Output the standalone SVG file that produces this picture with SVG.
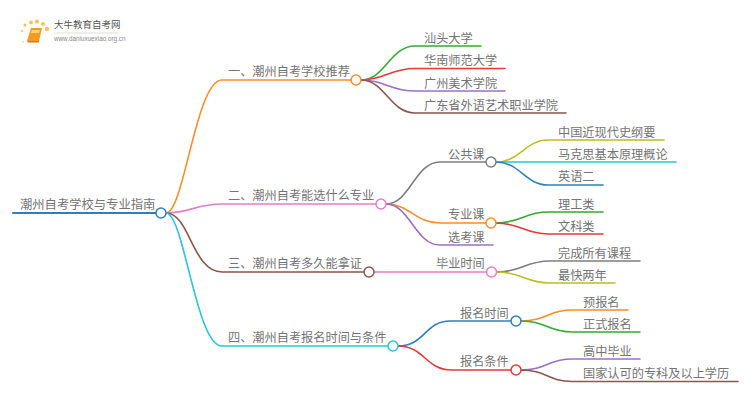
<svg xmlns="http://www.w3.org/2000/svg" width="750" height="410" viewBox="0 0 750 410">
<style>
text{font-family:"Noto Sans CJK SC","Noto Sans",sans-serif;font-size:12.200px;fill:#747474}
#connectors path{fill:none;stroke-width:1.600;stroke-linecap:round}
circle{fill:#fff;stroke-width:1.500;r:5px}
.dot{stroke:none;fill:#fbc14f}
.or{stroke:#ff8c2a}.pk{stroke:#e77cc8}.br{stroke:#8c564b}.cy{stroke:#27c5d8}.gn{stroke:#36a936}.rd{stroke:#e23a3a}.pu{stroke:#9a6fc8}.gy{stroke:#7f7f7f}.ol{stroke:#bcbd22}.bl{stroke:#2f7fbf}
</style>
<rect width="750" height="410" fill="#fff"/>
<g id="logo">
<circle class="dot" cx="23" cy="42" style="r:1px;fill:#fde3a8"/><circle class="dot" cx="22" cy="31" style="r:1.300px;fill:#fbd27c"/><circle class="dot" cx="25" cy="25" style="r:1.600px"/><circle class="dot" cx="31" cy="22.500" style="r:1.900px"/><circle class="dot" cx="37" cy="21.500" style="r:2px"/><circle class="dot" cx="43" cy="24" style="r:2px"/><circle class="dot" cx="47" cy="29" style="r:2.200px"/>
<path d="M31 28H42L39 41H27Z" fill="#f59a23"/><path d="M32 30H40L39 33H31Z" fill="#ffd27a"/><path d="M27 41L39 41 39 42.500H28Z" fill="#d9791a"/>
<text x="54" y="28" style="font-size:9.500px;fill:#555">大牛教育自考网</text>
<path d="M54 33H119" stroke="#ddd" stroke-width="1"/>
<text x="54" y="41" style="font-size:6.300px;fill:#888;font-family:'Liberation Sans',sans-serif">www.daniuxuexiao.org.cn</text>
</g>
<g id="connectors">
<path class="bl" d="M13 213H156" style="stroke-width:2"/>
<path class="or" d="M166 213C184 213 196 80 222 80H351"/>
<path class="pk" d="M166 213C190 213 196 204 222 204H376"/>
<path class="br" d="M166 213C190 213 192 272 222 272H364"/>
<path class="cy" d="M166 213C184 213 196 346 222 346H388"/>
<path class="gn" d="M361 80C385 80 390 46 415 46H481"/>
<path class="rd" d="M361 80C385 80 390 68.500 415 68.500H505"/>
<path class="pu" d="M361 80C385 80 390 91 415 91H505"/>
<path class="br" d="M361 80C385 80 390 113 415 113H566"/>
<path class="gy" d="M386 204C410 204 415 162 440 162H486"/>
<path class="or" d="M386 204C410 204 415 223 440 223H486"/>
<path class="pu" d="M386 204C410 204 415 245 440 245H493"/>
<path class="ol" d="M496 162C520 162 525 140 548 140H664"/>
<path class="cy" d="M496 162H676"/>
<path class="bl" d="M496 162C520 162 525 185 548 185H603"/>
<path class="gn" d="M496 223C520 223 525 212 548 212H603"/>
<path class="rd" d="M496 223C520 223 525 234 548 234H603"/>
<path class="pk" d="M374 272H487"/>
<path class="gy" d="M497 272C522 272 525 261 550 261H640"/>
<path class="ol" d="M497 272C522 272 525 283 550 283H615"/>
<path class="bl" d="M398 346C425 346 425 321 450 321H511"/>
<path class="rd" d="M398 346C425 346 425 370 452 370H511"/>
<path class="or" d="M521 321C546 321 548 310 572 310H628"/>
<path class="gn" d="M521 321C546 321 548 332 572 332H640"/>
<path class="pu" d="M521 370C546 370 548 359 572 359H640"/>
<path class="br" d="M521 370C546 370 548 381.500 572 381.500H738"/>
</g>
<g id="root"><circle class="bl" cx="161" cy="213"/><text x="20" y="209" style="font-size:12.300px">潮州自考学校与专业指南</text></g>
<g id="n1"><circle class="or" cx="356" cy="80"/><text x="228" y="76">一、潮州自考学校推荐</text></g>
<g id="n2"><circle class="pk" cx="381" cy="204"/><text x="228" y="200">二、潮州自考能选什么专业</text></g>
<g id="n3"><circle class="br" cx="369" cy="272"/><text x="228" y="268">三、潮州自考多久能拿证</text></g>
<g id="n4"><circle class="cy" cx="393" cy="346"/><text x="228" y="342">四、潮州自考报名时间与条件</text></g>
<g id="n1a"><text x="424" y="42.500">汕头大学</text></g>
<g id="n1b"><text x="424" y="65">华南师范大学</text></g>
<g id="n1c"><text x="424" y="87.500">广州美术学院</text></g>
<g id="n1d"><text x="424" y="110">广东省外语艺术职业学院</text></g>
<g id="n2a"><circle class="gy" cx="491" cy="162"/><text x="448" y="158.500">公共课</text></g>
<g id="n2b"><circle class="or" cx="491" cy="223"/><text x="448" y="219">专业课</text></g>
<g id="n2c"><text x="448" y="241.500">选考课</text></g>
<g id="n2a1"><text x="558" y="136.500">中国近现代史纲要</text></g>
<g id="n2a2"><text x="558" y="158.500">马克思基本原理概论</text></g>
<g id="n2a3"><text x="558" y="181">英语二</text></g>
<g id="n2b1"><text x="558" y="208.500">理工类</text></g>
<g id="n2b2"><text x="558" y="230.500">文科类</text></g>
<g id="n3a"><circle class="pk" cx="491.500" cy="272"/><text x="436" y="268">毕业时间</text></g>
<g id="n3a1"><text x="558" y="257.500">完成所有课程</text></g>
<g id="n3a2"><text x="558" y="280">最快两年</text></g>
<g id="n4a"><circle class="bl" cx="516" cy="321"/><text x="460" y="317.500">报名时间</text></g>
<g id="n4b"><circle class="rd" cx="516" cy="370"/><text x="460" y="366">报名条件</text></g>
<g id="n4a1"><text x="583" y="306.500">预报名</text></g>
<g id="n4a2"><text x="583" y="329">正式报名</text></g>
<g id="n4b1"><text x="583" y="355.500">高中毕业</text></g>
<g id="n4b2"><text x="583" y="378">国家认可的专科及以上学历</text></g>
</svg>
